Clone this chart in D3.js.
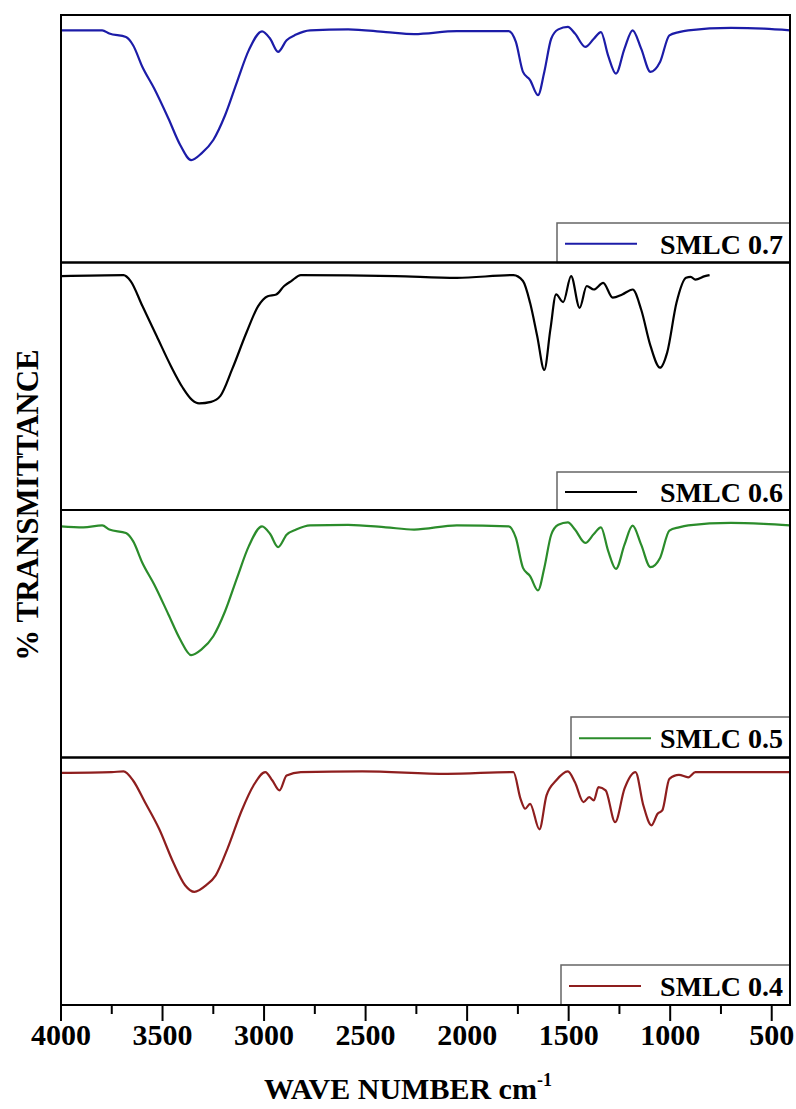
<!DOCTYPE html>
<html>
<head>
<meta charset="utf-8">
<script src="https://cdn.jsdelivr.net/npm/d3@7"></script>
<style>
  html, body { margin: 0; padding: 0; background: #fff; }
  svg { display: block; }
</style>
</head>
<body>
<svg id="chart" width="796" height="1109"></svg>
<script>
// ---------- DATA ----------
const seriesNames = ["SMLC 0.7", "SMLC 0.6", "SMLC 0.5", "SMLC 0.4"];
const seriesColors = ["#1c1ca8", "#000000", "#2b8c2b", "#8e1e1e"];

const xTicks = [4000, 3500, 3000, 2500, 2000, 1500, 1000, 500];
const xMinorTicks = [3750, 3250, 2750, 2250, 1750, 1250, 750];

// [wavenumber cm-1, %T (panel scale 0-100)]
const smlc07 = [
  [4000,93.8],[3797,93.8],[3762,92.5],[3680,91.1],[3645,87.8],[3599,79],[3541,70.3],
  [3471,58.2],[3413,47.5],[3359,41.4],[3308,44.1],[3250,49.5],[3192,59.5],[3133,73],
  [3075,85.8],[3010,93.4],[2970,90.4],[2931,85.1],[2889,89.8],[2842,92.1],[2773,93.8],
  [2586,94.2],[2400,93.1],[2261,92.3],[2051,93.5],[1795,93.5],[1760,89.1],[1725,77],
  [1690,73.7],[1651,67.6],[1620,77],[1586,90.4],[1551,94.2],[1504,95.2],[1469,92.5],
  [1418,87.1],[1376,90.4],[1341,93.1],[1306,83.7],[1267,76.3],[1225,86.4],[1185,93.8],
  [1143,86.4],[1097,77],[1050,81],[1004,91.8],[957,93.1],[911,93.8],[701,94.8],
  [538,94.5],[410,93.8]
];
const smlc06 = [
  [4000,94.5],[3692,94.9],[3657,92.5],[3599,82.4],[3529,70.3],[3459,58.2],[3401,49.5],
  [3355,44.5],[3320,43.1],[3261,43.7],[3215,46.1],[3157,56.9],[3087,71.6],[3029,82.4],
  [2982,86.4],[2940,87.1],[2901,90.5],[2866,92.5],[2819,94.9],[2354,94.5],[2051,93.8],
  [1772,94.9],[1725,92.5],[1690,83.7],[1655,70.3],[1620,56.6],[1590,73],[1562,87.1],
  [1527,84],[1488,94.5],[1446,81.7],[1411,90.5],[1376,89.1],[1330,91.8],[1283,85.8],
  [1236,87.1],[1185,89.1],[1143,81],[1097,66.3],[1050,57.5],[1015,63.6],[969,83.7],
  [922,93.8],[899,94.2],[876,93.1],[829,94.5],[806,94.9]
];
const smlc05 = [
  [4000,93.4],[3890,93],[3797,93.8],[3762,92.1],[3680,90.7],[3645,87.4],[3599,78.6],
  [3541,69.9],[3471,57.8],[3413,47.7],[3359,41.4],[3308,43.7],[3250,49],[3192,59.1],
  [3133,72.6],[3075,85.4],[3010,93.4],[2970,90.3],[2931,85],[2889,90],[2842,92.1],
  [2773,93.8],[2586,94],[2400,93],[2261,92.1],[2051,93.8],[1795,93.4],[1760,88.7],
  [1725,76.6],[1690,73.3],[1651,67.5],[1620,76.6],[1586,90],[1551,94],[1504,95],
  [1469,92.1],[1418,86.7],[1376,90.3],[1341,93],[1306,83.6],[1267,76.2],[1225,86],
  [1185,93.7],[1143,86],[1097,76.9],[1050,80.6],[1004,91.7],[957,93],[911,93.8],
  [701,94.8],[538,94.4],[410,93.8]
];
const smlc04 = [
  [4000,93.8],[3750,94.1],[3692,94.4],[3645,90.7],[3587,82],[3517,71.2],[3448,57.8],
  [3389,48.4],[3343,45.7],[3285,48.4],[3238,52.4],[3180,63.2],[3110,78.6],[3052,88.7],
  [2994,94.1],[2959,90.7],[2924,86.7],[2889,92.7],[2819,94.1],[2517,94.4],[2098,93.4],
  [1772,94.1],[1737,83.3],[1714,79.3],[1690,81.3],[1644,71],[1609,84.7],[1562,90.7],
  [1504,94.4],[1469,90],[1427,82],[1399,84],[1376,82.7],[1353,88],[1318,86.7],
  [1271,73.9],[1225,87.4],[1171,94.1],[1132,80.6],[1092,72.6],[1062,77.3],[1039,78.6],
  [1004,91.4],[957,93],[911,92],[876,94.1],[410,94.1]
];
const spectra = [smlc07, smlc06, smlc05, smlc04];

// ---------- LAYOUT ----------
const svg = d3.select("#chart");
const plotLeft = 61, plotRight = 790, plotTop = 15, plotBottom = 1005;
const nPanels = 4;
const panelH = (plotBottom - plotTop) / nPanels;
const legendBoxes = [
  {x: 557, y: 223}, {x: 557, y: 472}, {x: 571, y: 717}, {x: 561, y: 965}
];
const fontFam = "'Liberation Serif', 'Times New Roman', serif";

const x = d3.scaleLinear().domain([4000, 410]).range([plotLeft, plotRight]);

spectra.forEach((data, i) => {
  const pTop = plotTop + i * panelH, pBot = pTop + panelH;
  const y = d3.scaleLinear().domain([0, 100]).range([pBot, pTop]);
  const g = svg.append("g");
  const line = d3.line().x(d => x(d[0])).y(d => y(d[1])).curve(d3.curveMonotoneX);
  g.append("path").datum(data).attr("d", line)
    .attr("fill", "none").attr("stroke", seriesColors[i]).attr("stroke-width", 2.2)
    .attr("stroke-linejoin", "round");

  // legend
  const lb = legendBoxes[i];
  g.append("rect").attr("x", lb.x).attr("y", lb.y)
    .attr("width", plotRight - lb.x).attr("height", pBot - lb.y)
    .attr("fill", "#fff").attr("stroke", "#666").attr("stroke-width", 1.5);
  const ly = (lb.y + pBot) / 2 + 1;
  g.append("line").attr("x1", lb.x + 8).attr("x2", lb.x + 80)
    .attr("y1", ly).attr("y2", ly)
    .attr("stroke", seriesColors[i]).attr("stroke-width", 2.2);
  g.append("text").attr("x", plotRight - 7).attr("y", ly + 10)
    .attr("text-anchor", "end")
    .attr("font-family", fontFam).attr("font-weight", "bold").attr("font-size", 28)
    .text(seriesNames[i]);

  // panel frame
  g.append("rect").attr("x", plotLeft).attr("y", pTop)
    .attr("width", plotRight - plotLeft).attr("height", panelH)
    .attr("fill", "none").attr("stroke", "#000").attr("stroke-width", 2);
});

// bottom axis
const axisG = svg.append("g");
xTicks.forEach(t => {
  axisG.append("line").attr("x1", x(t)).attr("x2", x(t))
    .attr("y1", plotBottom).attr("y2", plotBottom + 16)
    .attr("stroke", "#000").attr("stroke-width", 2);
  axisG.append("text")
    .attr("x", x(t)).attr("y", 1045)
    .attr("text-anchor", "middle")
    .attr("font-family", fontFam).attr("font-weight", "bold").attr("font-size", 30)
    .text(t);
});
xMinorTicks.forEach(t => {
  axisG.append("line").attr("x1", x(t)).attr("x2", x(t))
    .attr("y1", plotBottom).attr("y2", plotBottom + 9)
    .attr("stroke", "#000").attr("stroke-width", 2);
});

// axis titles
const xt = svg.append("text")
  .attr("x", 408).attr("y", 1099)
  .attr("text-anchor", "middle")
  .attr("font-family", fontFam).attr("font-weight", "bold").attr("font-size", 30);
xt.append("tspan").text("WAVE NUMBER cm");
xt.append("tspan").attr("dy", -13).attr("font-size", 18).text("-1");

svg.append("text")
  .attr("transform", "translate(38,505) rotate(-90)")
  .attr("text-anchor", "middle")
  .attr("font-family", fontFam).attr("font-weight", "bold").attr("font-size", 31)
  .text("% TRANSMITTANCE");
</script>
</body>
</html>
